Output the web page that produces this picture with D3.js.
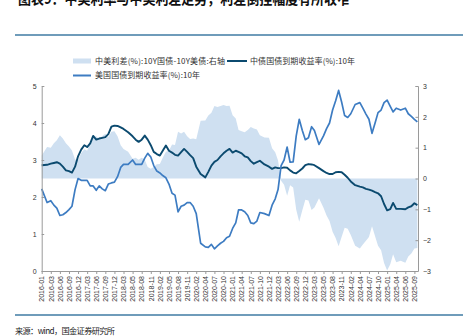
<!DOCTYPE html>
<html><head><meta charset="utf-8">
<script src="https://cdn.jsdelivr.net/npm/d3@7"></script>
<style>
html,body{margin:0;padding:0;background:#fff;}
svg{display:block;}
</style></head>
<body><svg id="c" width="463" height="336"></svg>
<script>
// ---- data (monthly, mid-month readings) ----
const startDate = new Date(2016, 0, 4);
const dates = d3.timeMonth.range(new Date(2016, 0, 1), new Date(2025, 10, 1)).map(d => new Date(d.getFullYear(), d.getMonth(), 15));
dates[0] = startDate;

const cnYield = [2.86,2.87,2.90,2.92,2.94,2.90,2.82,2.72,2.70,2.66, 2.82,3.10,3.28,3.40,3.35,3.45,3.65,3.55,3.58,3.60,
 3.62,3.70,3.90,3.93,3.92,3.88,3.84,3.75,3.64,3.55, 3.49,3.55,3.66,3.55,3.40,3.22,3.16,3.12,3.25,3.39,
 3.25,3.20,3.14,3.12,3.21,3.30,3.22,3.13,3.05,2.82, 2.62,2.53,2.68,2.85,2.95,3.00,3.10,3.18,3.25,3.30,
 3.20,3.25,3.22,3.18,3.10,3.07,2.97,2.90,2.94,2.98, 2.88,2.82,2.76,2.80,2.78,2.78,2.80,2.79,2.72,2.66,
 2.64,2.70,2.77,2.86,2.89,2.88,2.86,2.78,2.70,2.65, 2.62,2.62,2.67,2.68,2.67,2.60,2.52,2.42,2.32,2.28,
 2.26,2.22,2.20,2.17,2.13,2.10,2.02,1.81,1.64,1.67, 1.84,1.68,1.68,1.67,1.72,1.75,1.83,1.78];

const usYield = [2.22,1.85,1.90,1.78,1.70,1.50,1.52,1.58,1.66,1.75, 2.20,2.50,2.45,2.45,2.45,2.30,2.30,2.18,2.30,2.22,
 2.17,2.35,2.38,2.40,2.55,2.80,2.88,2.88,3.00,2.88, 2.88,2.88,3.05,3.18,3.08,2.85,2.70,2.65,2.58,2.52,
 2.35,2.10,2.05,1.60,1.75,1.78,1.85,1.85,1.75,1.55, 0.75,0.65,0.64,0.72,0.60,0.68,0.75,0.80,0.90,0.94,
 1.15,1.30,1.65,1.65,1.60,1.50,1.30,1.28,1.35,1.58, 1.55,1.50,1.78,1.95,2.20,2.85,3.00,3.35,2.94,2.95,
 3.65,4.10,3.80,3.55,3.60,3.90,3.80,3.42,3.65,3.85, 4.00,4.35,4.60,4.88,4.56,4.20,4.15,4.25,4.50,4.55,
 4.40,4.24,4.10,3.72,4.00,4.28,4.35,4.55,4.62,4.45, 4.30,4.40,4.35,4.40,4.25,4.18,4.10,4.03];

const spread = [0.75,1.02,1.00,1.14,1.24,1.40,1.30,1.14,1.04,0.91, 0.62,0.60,0.83,0.95,0.90,1.15,1.35,1.37,1.28,1.38,
 1.45,1.35,1.52,1.53,1.37,1.08,0.96,0.87,0.64,0.67, 0.61,0.67,0.61,0.37,0.32,0.37,0.46,0.47,0.67,0.87,
 0.90,1.10,1.09,1.52,1.46,1.52,1.37,1.28,1.30,1.27, 1.87,1.88,2.04,2.13,2.35,2.32,2.35,2.38,2.35,2.36,
 2.05,1.95,1.57,1.53,1.50,1.57,1.67,1.62,1.59,1.40, 1.33,1.32,0.98,0.85,0.58,-0.07,-0.20,-0.56,-0.22,-0.29,
 -1.01,-1.40,-1.03,-0.69,-0.71,-1.02,-0.94,-0.64,-0.95,-1.20, -1.38,-1.73,-1.93,-2.20,-1.89,-1.60,-1.63,-1.83,-2.18,-2.27,
 -2.14,-2.02,-1.90,-1.55,-1.87,-2.18,-2.33,-2.74,-2.98,-2.78, -2.46,-2.72,-2.67,-2.73,-2.53,-2.43,-2.27,-2.25];

const xTickLabels = ["2016-01","2016-03","2016-06","2016-09","2016-12","2017-03","2017-06","2017-09","2017-12","2018-03",
 "2018-05","2018-08","2018-11","2019-02","2019-05","2019-08","2019-11","2020-02","2020-04","2020-07",
 "2020-10","2021-01","2021-04","2021-07","2021-10","2021-12","2022-03","2022-06","2022-09","2022-12",
 "2023-03","2023-05","2023-08","2023-11","2024-02","2024-04","2024-07","2024-10","2025-01","2025-04",
 "2025-06","2025-09"];
const leftTicks = [0,1,2,3,4,5];
const rightTicks = [-3,-2,-1,0,1,2,3];

const seriesNames = ["中美利差(%):10Y国债-10Y美债:右轴","中债国债到期收益率(%):10年","美国国债到期收益率(%):10年"];
const titleText = "图表9：中美利率与中美利差走势，利差倒挂幅度有所收窄";
const sourceText = "来源：wind，国金证券研究所";

// ---- layout ----
const svg = d3.select("#c");
const L = 41.7, R = 418, T = 86, B = 271;
const tickStep = (414.4 - L) / (xTickLabels.length - 1);
const tickDates = xTickLabels.map((s, i) => i === 0 ? startDate : new Date(+s.slice(0,4), +s.slice(5,7) - 1, 15));
const x = d3.scaleTime().domain(tickDates).range(tickDates.map((d, i) => L + i * tickStep));
const yL = d3.scaleLinear().domain([0, 5]).range([B, T]);
const yR = d3.scaleLinear().domain([-3, 3]).range([B, T]);

const cArea = "#cfe0f1", cCN = "#0b4a6f", cUS = "#3d7cc2";
const font = "'Liberation Sans', Arial, sans-serif";
const cjk = "'Noto Sans CJK SC', 'Liberation Sans', sans-serif";

// title (cropped at top, as in the reference) and rules
svg.append("text").attr("x", 18).attr("y", 3.5).attr("font-family", cjk).attr("font-weight", "bold")
  .attr("font-size", 15).attr("fill", "#111").attr("textLength", 332).attr("lengthAdjust", "spacingAndGlyphs").text(titleText);
svg.append("line").attr("x1", 15).attr("x2", 463).attr("y1", 35).attr("y2", 35).attr("stroke", "#3f7ba3").attr("stroke-width", 1.5);
svg.append("line").attr("x1", 15).attr("x2", 463).attr("y1", 315).attr("y2", 315).attr("stroke", "#3f7ba3").attr("stroke-width", 1.5);
svg.append("text").attr("x", 15).attr("y", 334).attr("font-family", cjk).attr("font-size", 8.2).attr("fill", "#222")
  .attr("textLength", 100).attr("lengthAdjust", "spacing").text(sourceText);

// area
const area = d3.area().x((d, i) => x(dates[i])).y0(yR(0)).y1(d => yR(d));
svg.append("path").datum(spread).attr("d", area).attr("fill", cArea);

// lines
const lineL = d3.line().x((d, i) => x(dates[i])).y(d => yL(d));
svg.append("path").datum(cnYield).attr("d", lineL).attr("fill", "none").attr("stroke", cCN).attr("stroke-width", 1.9).attr("stroke-linejoin", "round");
svg.append("path").datum(usYield).attr("d", lineL).attr("fill", "none").attr("stroke", cUS).attr("stroke-width", 1.7).attr("stroke-linejoin", "round");

// axes
const axL = svg.append("g").attr("transform", `translate(${L},0)`)
  .call(d3.axisLeft(yL).tickValues(leftTicks).tickSize(-2.5).tickPadding(5).tickFormat(d3.format("d")));
const axR = svg.append("g").attr("transform", `translate(${R},0)`)
  .call(d3.axisRight(yR).tickValues(rightTicks).tickSize(-2.5).tickPadding(5).tickFormat(d3.format("d")));
const axB = svg.append("g").attr("transform", `translate(0,${B})`)
  .call(d3.axisBottom(x).tickValues(tickDates).tickSize(3).tickFormat((d, i) => xTickLabels[i]));
axB.select(".domain").attr("d", `M${L},0.5H${R}`);
[axL, axR, axB].forEach(a => {
  a.selectAll(".domain").attr("stroke", "#9a9a9a");
  a.selectAll(".tick line").attr("stroke", "#9a9a9a");
  a.selectAll("text").attr("font-family", font).attr("font-size", 7).attr("fill", "#333");
});
axB.selectAll("text").attr("transform", "rotate(-90)").attr("x", -5).attr("y", 0).attr("dy", "0.32em").attr("text-anchor", "end");

// legend
const lg = svg.append("g").attr("font-family", cjk).attr("font-size", 8).attr("fill", "#333");
lg.append("rect").attr("x", 73).attr("y", 58.5).attr("width", 18).attr("height", 5).attr("fill", cArea);
lg.append("text").attr("x", 95).attr("y", 61).attr("dy", "0.35em").attr("textLength", 130).attr("lengthAdjust", "spacing").text(seriesNames[0]);
lg.append("line").attr("x1", 227).attr("x2", 247).attr("y1", 61).attr("y2", 61).attr("stroke", cCN).attr("stroke-width", 2);
lg.append("text").attr("x", 250).attr("y", 61).attr("dy", "0.35em").attr("textLength", 105).attr("lengthAdjust", "spacing").text(seriesNames[1]);
lg.append("line").attr("x1", 73).attr("x2", 91).attr("y1", 75.5).attr("y2", 75.5).attr("stroke", cUS).attr("stroke-width", 2);
lg.append("text").attr("x", 95).attr("y", 75.5).attr("dy", "0.35em").attr("textLength", 105).attr("lengthAdjust", "spacing").text(seriesNames[2]);
</script></body></html>
